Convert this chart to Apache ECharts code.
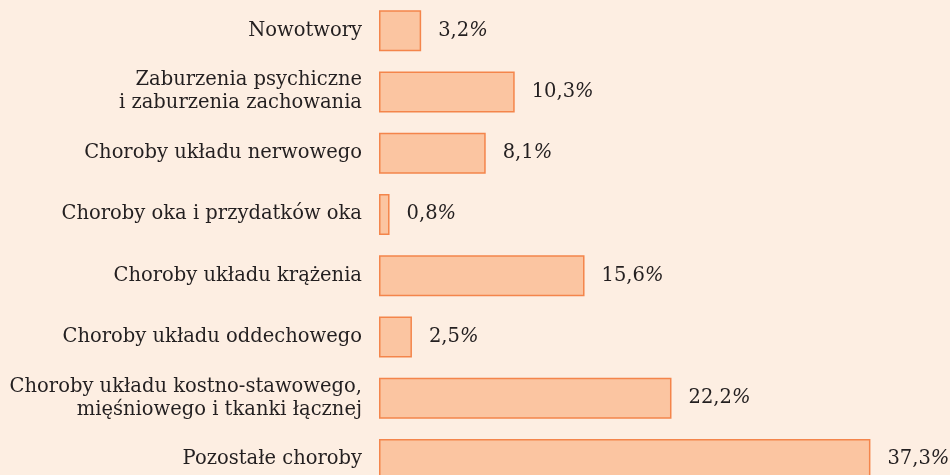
<!DOCTYPE html>
<html>
<head>
<meta charset="utf-8">
<script src="https://cdn.jsdelivr.net/npm/echarts@6/dist/echarts.min.js"></script>
<style>
  html, body { margin: 0; padding: 0; background: #fdeee2; overflow: hidden; }
  /* the last bar runs past the bottom edge of the page */
  #chart { width: 950px; height: 490px; }
</style>
</head>
<body>
<div id="chart"></div>
<script>
// Causes of incapacity, share in percent
const categories = [
  'Nowotwory',
  'Zaburzenia psychiczne\ni zaburzenia zachowania',
  'Choroby układu nerwowego',
  'Choroby oka i przydatków oka',
  'Choroby układu krążenia',
  'Choroby układu oddechowego',
  'Choroby układu kostno-stawowego,\nmięśniowego i tkanki łącznej',
  'Pozostałe choroby'
];
const shares = [3.2, 10.3, 8.1, 0.8, 15.6, 2.5, 22.2, 37.3];

const fmt = v => v.toFixed(1).replace('.', ',');
const FONT = 'DejaVu Serif';

const chart = echarts.init(document.getElementById('chart'));
chart.setOption({
  backgroundColor: '#fdeee2',
  animation: false,
  grid: { left: 379, top: 0, right: 44, bottom: 0, containLabel: false },
  xAxis: {
    type: 'value', min: 0, max: 40, show: false
  },
  yAxis: {
    type: 'category',
    inverse: true,
    data: categories,
    axisLine: { show: false },
    axisTick: { show: false },
    axisLabel: {
      margin: 17,
      fontFamily: FONT,
      fontSize: 19.5,
      lineHeight: 23,
      color: '#231f20',
      align: 'right'
    }
  },
  series: [{
    type: 'bar',
    data: shares,
    barWidth: 41,
    itemStyle: { color: '#fbc5a1', borderColor: '#f4854b', borderWidth: 1.5 },
    label: {
      show: true,
      position: 'right',
      distance: 17,
      formatter: p => '{n|' + fmt(p.value) + '}{p|%}',
      rich: {
        n: { fontFamily: FONT, fontSize: 19.5, color: '#231f20' },
        p: { fontFamily: FONT, fontSize: 19.5, fontStyle: 'italic', color: '#231f20' }
      }
    }
  }]
});
</script>
</body>
</html>
